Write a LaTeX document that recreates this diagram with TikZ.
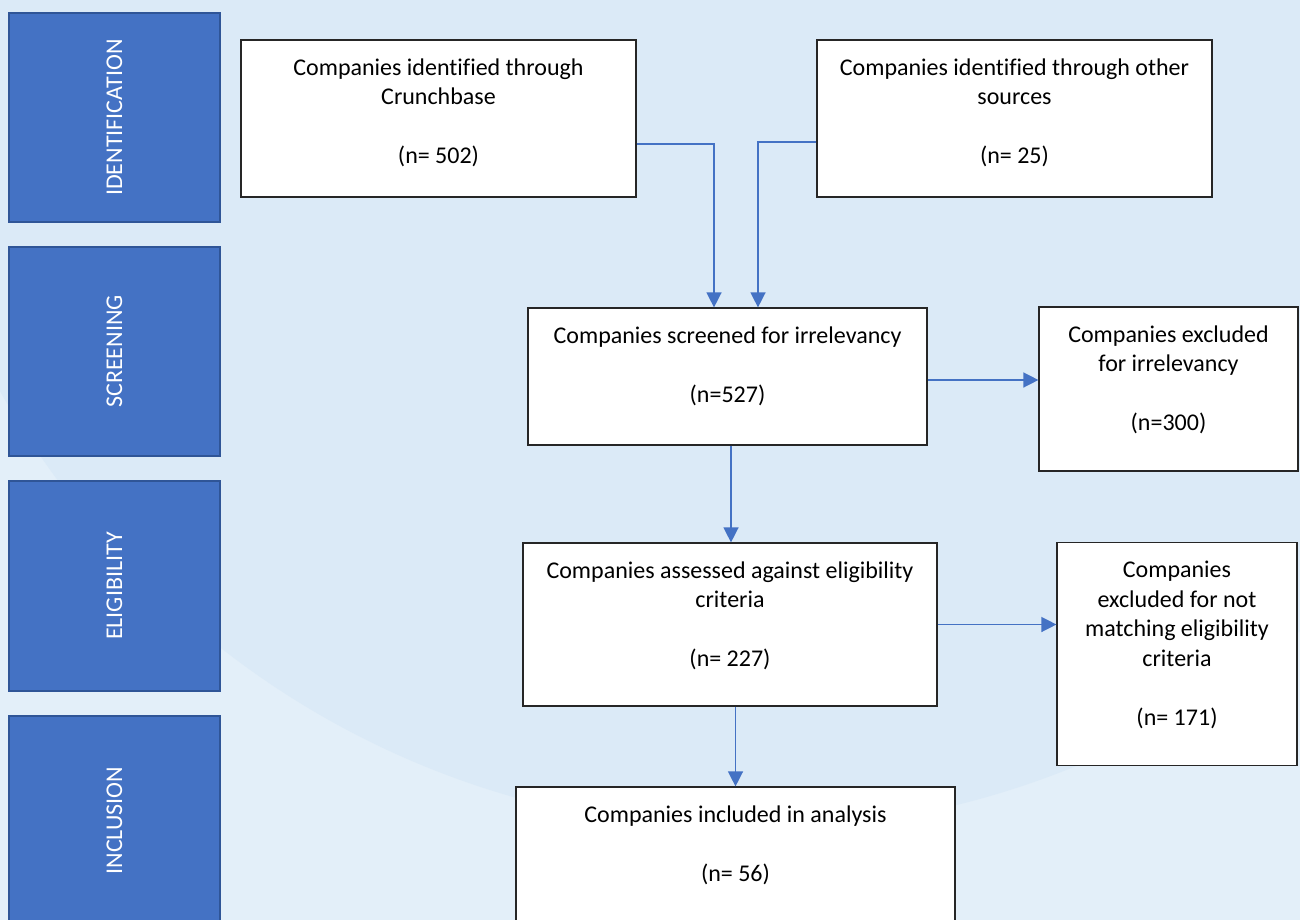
\documentclass[tikz,border=0pt]{standalone}
\usepackage{fontspec}
\setmainfont[Ligatures=CommonOff]{Carlito}
\usetikzlibrary{arrows.meta, positioning}

\definecolor{phaseblue}{HTML}{4472C4}
\definecolor{phaseedge}{HTML}{2F5597}
\definecolor{bgouter}{HTML}{E3EFF9}
\definecolor{bginner}{HTML}{DBEAF7}

\begin{document}
\begin{tikzpicture}[x=1pt, y=-1pt]

    \tikzstyle{phase}=[draw=phaseedge, fill=phaseblue, line width=1.5pt, minimum width=211, minimum height=209, inner sep=0pt];
    \tikzstyle{phasetext}=[text=white, rotate=90, font=\fontsize{24}{28}\selectfont];
    \tikzstyle{box}=[draw=black!85, fill=white, line width=1.2pt, inner sep=0pt];
    \tikzstyle{boxtext}=[anchor=north, align=center, inner sep=0pt, yshift=-19pt, font=\fontsize{24}{29.5}\selectfont];
    \tikzstyle{flow}=[draw=phaseblue, line width=1.4pt, -{Triangle[width=15pt, length=15pt]}];

    % background
    \clip (0,0) rectangle (1300,920);
    \fill[bgouter] (0,0) rectangle (1300,920);
    \fill[bginner] (750,-30) circle (860);

    % phases
    \node[phase] (ident) at (114.5, 117.5) {};
    \node[phasetext] at (ident) {IDENTIFICATION};
    \node[phase] (screening) at (114.5, 351.5) {};
    \node[phasetext] at (screening) {SCREENING};
    \node[phase, minimum height=210] (elig) at (114.5, 586) {};
    \node[phasetext] at (elig) {ELIGIBILITY};
    \node[phase] (inclusion) at (114.5, 820.5) {};
    \node[phasetext] at (inclusion) {INCLUSION};

    % boxes
    \node[box, minimum width=395, minimum height=157,
        label={[boxtext]north:{Companies identified through\\Crunchbase\\[29.5pt](n= 502)}}] (crunch) at (438.5, 118.5) {};
    \node[box, minimum width=395, minimum height=157,
        label={[boxtext]north:{Companies identified through other\\sources\\[29.5pt](n= 25)}}] (other) at (1014.5, 118.5) {};
    \node[box, minimum width=399, minimum height=137,
        label={[boxtext]north:{Companies screened for irrelevancy\\[29.5pt](n=527)}}] (screen) at (727.5, 376.5) {};
    \node[box, minimum width=259, minimum height=164,
        label={[boxtext]north:{Companies excluded\\for irrelevancy\\[29.5pt](n=300)}}] (irrel) at (1168.5, 389) {};
    \node[box, minimum width=414, minimum height=163,
        label={[boxtext]north:{Companies assessed against eligibility\\criteria\\[29.5pt](n= 227)}}] (assess) at (730, 624.5) {};
    \node[box, minimum width=240, minimum height=223,
        label={[boxtext]north:{Companies\\excluded for not\\matching eligibility\\criteria\\[29.5pt](n= 171)}}] (noteligible) at (1177, 654) {};
    \node[box, minimum width=439, minimum height=160,
        label={[boxtext]north:{Companies included in analysis\\[29.5pt](n= 56)}}] (included) at (735.5, 867) {};

    % connectors
    \draw[flow] ([yshift=-25.5pt]crunch.east) -| ([xshift=-13.5pt]screen.north);
    \draw[flow] ([yshift=-23.5pt]other.west) -| ([xshift=30.5pt]screen.north);
    \draw[flow] ([yshift=-3.5pt]screen.east) -- ([yshift=-3.5pt]screen.east -| irrel.west);
    \draw[flow] ([xshift=3.5pt]screen.south) -- ([xshift=3.5pt]screen.south |- assess.north);
    \draw[flow] (assess.east) -- (assess.east -| noteligible.west);
    \draw[flow] (included.north |- assess.south) -- (included.north);

\end{tikzpicture}
\end{document}
